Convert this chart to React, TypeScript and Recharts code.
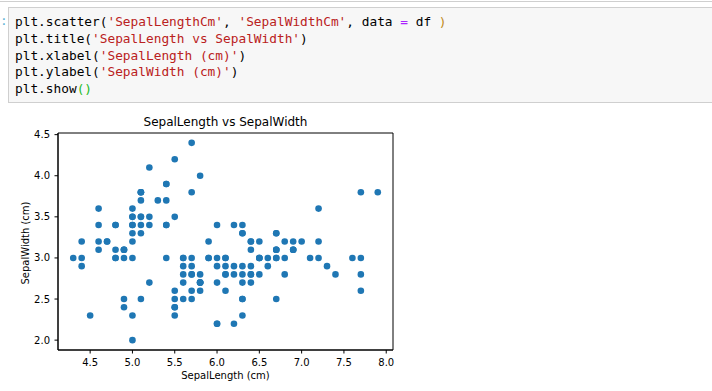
import React from 'react';
import { ScatterChart, Scatter, XAxis, YAxis, ReferenceArea } from 'recharts';

// Iris: SepalLengthCm / SepalWidthCm, row order as in the csv
const sepalLength = [
  5.1, 4.9, 4.7, 4.6, 5.0, 5.4, 4.6, 5.0, 4.4, 4.9, 5.4, 4.8, 4.8, 4.3, 5.8, 5.7, 5.4, 5.1, 5.7, 5.1,
  5.4, 5.1, 4.6, 5.1, 4.8, 5.0, 5.0, 5.2, 5.2, 4.7, 4.8, 5.4, 5.2, 5.5, 4.9, 5.0, 5.5, 4.9, 4.4, 5.1,
  5.0, 4.5, 4.4, 5.0, 5.1, 4.8, 5.1, 4.6, 5.3, 5.0,
  7.0, 6.4, 6.9, 5.5, 6.5, 5.7, 6.3, 4.9, 6.6, 5.2, 5.0, 5.9, 6.0, 6.1, 5.6, 6.7, 5.6, 5.8, 6.2, 5.6,
  5.9, 6.1, 6.3, 6.1, 6.4, 6.6, 6.8, 6.7, 6.0, 5.7, 5.5, 5.5, 5.8, 6.0, 5.4, 6.0, 6.7, 6.3, 5.6, 5.5,
  5.5, 6.1, 5.8, 5.0, 5.6, 5.7, 5.7, 6.2, 5.1, 5.7,
  6.3, 5.8, 7.1, 6.3, 6.5, 7.6, 4.9, 7.3, 6.7, 7.2, 6.5, 6.4, 6.8, 5.7, 5.8, 6.4, 6.5, 7.7, 7.7, 6.0,
  6.9, 5.6, 7.7, 6.3, 6.7, 7.2, 6.2, 6.1, 6.4, 7.2, 7.4, 7.9, 6.4, 6.3, 6.1, 7.7, 6.3, 6.4, 6.0, 6.9,
  6.7, 6.9, 5.8, 6.8, 6.7, 6.7, 6.3, 6.5, 6.2, 5.9,
];

const sepalWidth = [
  3.5, 3.0, 3.2, 3.1, 3.6, 3.9, 3.4, 3.4, 2.9, 3.1, 3.7, 3.4, 3.0, 3.0, 4.0, 4.4, 3.9, 3.5, 3.8, 3.8,
  3.4, 3.7, 3.6, 3.3, 3.4, 3.0, 3.4, 3.5, 3.4, 3.2, 3.1, 3.4, 4.1, 4.2, 3.1, 3.2, 3.5, 3.1, 3.0, 3.4,
  3.5, 2.3, 3.2, 3.5, 3.8, 3.0, 3.8, 3.2, 3.7, 3.3,
  3.2, 3.2, 3.1, 2.3, 2.8, 2.8, 3.3, 2.4, 2.9, 2.7, 2.0, 3.0, 2.2, 2.9, 2.9, 3.1, 3.0, 2.7, 2.2, 2.5,
  3.2, 2.8, 2.5, 2.8, 2.9, 3.0, 2.8, 3.0, 2.9, 2.6, 2.4, 2.4, 2.7, 2.7, 3.0, 3.4, 3.1, 2.3, 3.0, 2.5,
  2.6, 3.0, 2.6, 2.3, 2.7, 3.0, 2.9, 2.9, 2.5, 2.8,
  3.3, 2.7, 3.0, 2.9, 3.0, 3.0, 2.5, 2.9, 2.5, 3.6, 3.2, 2.7, 3.0, 2.5, 2.8, 3.2, 3.0, 3.8, 2.6, 2.2,
  3.2, 2.8, 2.8, 2.7, 3.3, 3.2, 2.8, 3.0, 2.8, 3.0, 2.8, 3.8, 2.8, 2.8, 2.6, 3.0, 3.4, 3.1, 3.0, 3.1,
  3.1, 3.1, 2.7, 3.2, 3.3, 3.0, 2.5, 3.0, 3.4, 3.0,
];

const xTicks = [4.5, 5.0, 5.5, 6.0, 6.5, 7.0, 7.5, 8.0];
const yTicks = [2.0, 2.5, 3.0, 3.5, 4.0, 4.5];

const points = sepalLength.map((x, i) => ({ x, y: sepalWidth[i] }));

const mono = '"DejaVu Sans Mono", "Liberation Mono", monospace';
const sans = '"DejaVu Sans", sans-serif';
const str = '#ba2121';

const codeLines: React.ReactNode[] = [
  <>plt.scatter(<span style={{ color: str }}>'SepalLengthCm'</span>, <span style={{ color: str }}>'SepalWidthCm'</span>, data <span style={{ color: '#aa22ff' }}>=</span> df <span style={{ color: '#c08a20' }}>)</span></>,
  <>plt.title(<span style={{ color: str }}>'SepalLength vs SepalWidth'</span>)</>,
  <>plt.xlabel(<span style={{ color: str }}>'SepalLength (cm)'</span>)</>,
  <>plt.ylabel(<span style={{ color: str }}>'SepalWidth (cm)'</span>)</>,
  <>plt.show<span style={{ color: '#22bb22' }}>()</span></>,
];

const Dot = (props: any) => <circle cx={props.cx} cy={props.cy} r={3.3} fill="#1f77b4" />;

const tickStyle = { fill: '#000', fontSize: 10, fontFamily: sans };

export default function App() {
  return (
    <div style={{ position: 'absolute', left: 0, top: 0, width: 712, height: 391, background: '#fff', overflow: 'hidden' }}>
      {/* notebook cell */}
      <div style={{ position: 'absolute', left: 0, top: 1, width: 712, height: 1, background: '#cfcfcf' }} />
      <div style={{ position: 'absolute', left: 0, top: 13, fontFamily: mono, fontSize: 12.8, color: '#5fb3d6' }}>:</div>
      <div
        style={{
          position: 'absolute', left: 8, top: 7, width: 720, height: 96,
          background: '#f7f7f7', border: '1px solid #cfcfcf', boxSizing: 'border-box',
        }}
      >
        <div style={{ position: 'absolute', left: 6, top: 6, fontFamily: mono, fontSize: 12.8, lineHeight: '16.8px', color: '#000', whiteSpace: 'pre' }}>
          {codeLines.map((l, i) => <div key={i}>{l}</div>)}
        </div>
      </div>

      {/* figure */}
      <div style={{ position: 'absolute', left: 58, top: 115, width: 335, textAlign: 'center', fontFamily: sans, fontSize: 12, color: '#000' }}>
        SepalLength vs SepalWidth
      </div>
      <div style={{ position: 'absolute', left: 58, top: 370, width: 335, textAlign: 'center', fontFamily: sans, fontSize: 10, color: '#000' }}>
        SepalLength (cm)
      </div>
      <div
        style={{
          position: 'absolute', left: 25, top: 243, fontFamily: sans, fontSize: 10, color: '#000',
          whiteSpace: 'nowrap', transform: 'translate(-50%, -50%) rotate(-90deg)',
        }}
      >
        SepalWidth (cm)
      </div>
      <div style={{ position: 'absolute', left: 0, top: 110 }}>
        <ScatterChart width={420} height={281} margin={{ top: 23, right: 27, bottom: 11, left: 18 }}>
          <XAxis
            type="number" dataKey="x" domain={[4.12, 8.08]} allowDataOverflow ticks={xTicks}
            tickFormatter={(v: number) => v.toFixed(1)} height={30} tickSize={3.5} tickMargin={5}
            stroke="#000" tick={tickStyle} axisLine={{ stroke: '#000', strokeWidth: 1 }}
          />
          <YAxis
            type="number" dataKey="y" domain={[1.88, 4.52]} allowDataOverflow ticks={yTicks}
            tickFormatter={(v: number) => v.toFixed(1)} width={40} tickSize={3.5} tickMargin={4.5}
            stroke="#000" tick={tickStyle} axisLine={{ stroke: '#000', strokeWidth: 1 }}
          />
          <ReferenceArea x1={4.12} x2={8.08} y1={1.88} y2={4.52} fill="none" stroke="#000" strokeWidth={1} fillOpacity={0} />
          <Scatter data={points} shape={Dot} isAnimationActive={false} />
        </ScatterChart>
      </div>
    </div>
  );
}
